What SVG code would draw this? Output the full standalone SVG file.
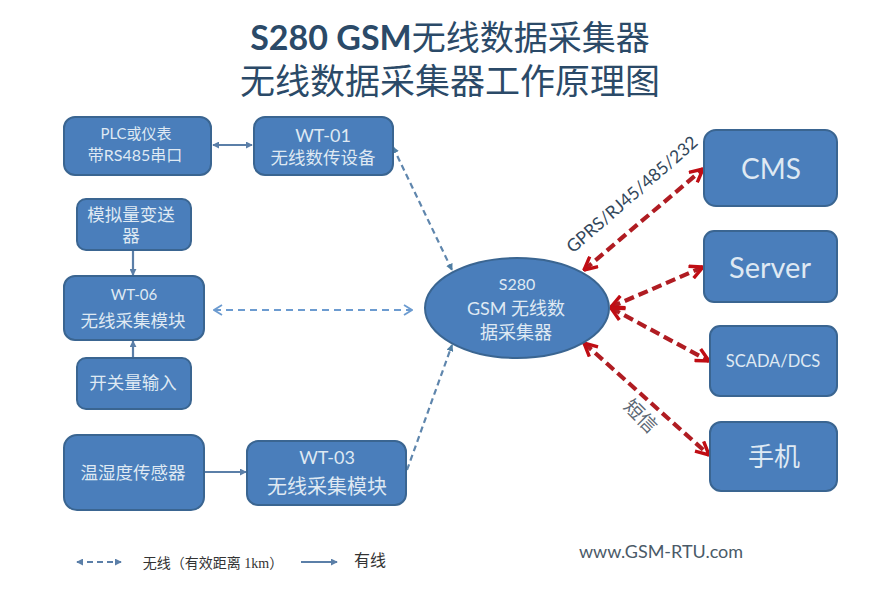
<svg xmlns="http://www.w3.org/2000/svg" width="869" height="606" viewBox="0 0 869 606">
<style>
text{font-family:Lato,"Noto Sans CJK SC",sans-serif;text-anchor:middle}
.n rect,.n ellipse{fill:#4a7ebb;stroke:#3a6591;stroke-width:2}
.n text{fill:#dfe9f3}
.w{stroke:#5b7fa8;stroke-width:2.2;fill:none}
.d{stroke:#5f86ad;stroke-width:2.2;fill:none;stroke-dasharray:6 4}
.l{stroke:#6c9bd0;stroke-width:2;fill:none;stroke-dasharray:7 5}
.r{stroke:#b01c22;stroke-width:4.2;fill:none;stroke-dasharray:10 5}
.t{fill:#33475b}
</style>
<defs>
<marker id="ws" viewBox="0 0 8 8" refX="7" refY="4" markerWidth="7" markerHeight="7" markerUnits="userSpaceOnUse" orient="auto-start-reverse"><path d="M0 0L8 4L0 8Z" fill="#5b7fa8"/></marker>
<marker id="ds" viewBox="0 0 8 8" refX="7" refY="4" markerWidth="7" markerHeight="7" markerUnits="userSpaceOnUse" orient="auto-start-reverse"><path d="M0 0L8 4L0 8Z" fill="#4f7ea3"/></marker>
<marker id="ls" viewBox="0 0 10 12" refX="9" refY="6" markerWidth="10" markerHeight="12" markerUnits="userSpaceOnUse" orient="auto-start-reverse"><path d="M1 1L9 6L1 11" fill="none" stroke="#6c9bd0" stroke-width="1.8"/></marker>
<marker id="rs" viewBox="0 0 16 16" refX="15" refY="8" markerWidth="16" markerHeight="16" markerUnits="userSpaceOnUse" orient="auto-start-reverse"><path d="M2 1.5L15 8L2 14.5" fill="none" stroke="#c00d14" stroke-width="3.4"/></marker>
</defs>

<text x="450" y="50" font-size="34" fill="#2b4a68"><tspan font-weight="700">S280 GSM</tspan>无线数据采集器</text>
<text x="450" y="94" font-size="35" fill="#2b4a68">无线数据采集器工作原理图</text>

<g id="connectors">
<line class="w" x1="213" y1="145" x2="252" y2="145" marker-start="url(#ws)" marker-end="url(#ws)"/>
<line class="w" x1="133" y1="251" x2="133" y2="275" marker-end="url(#ws)"/>
<line class="w" x1="133" y1="357" x2="133" y2="341" marker-end="url(#ws)"/>
<line class="w" x1="205" y1="472" x2="246" y2="472" marker-end="url(#ws)"/>
<line class="d" x1="393" y1="147" x2="452" y2="270" marker-start="url(#ds)" marker-end="url(#ds)"/>
<line class="d" x1="407" y1="470" x2="452" y2="345" marker-end="url(#ds)"/>
<line class="l" x1="214" y1="310" x2="412" y2="310" marker-start="url(#ls)" marker-end="url(#ls)"/>
<line class="r" x1="584" y1="270" x2="703" y2="169" marker-start="url(#rs)" marker-end="url(#rs)"/>
<line class="r" x1="611" y1="307" x2="703" y2="267" marker-start="url(#rs)" marker-end="url(#rs)"/>
<line class="r" x1="611" y1="308" x2="709" y2="361" marker-start="url(#rs)" marker-end="url(#rs)"/>
<line class="r" x1="584" y1="343" x2="709" y2="455" marker-start="url(#rs)" marker-end="url(#rs)"/>
<line class="w" x1="77" y1="562" x2="121" y2="562" stroke-dasharray="6 4" marker-start="url(#ws)" marker-end="url(#ws)"/>
<line class="w" x1="301" y1="562" x2="337" y2="562" marker-end="url(#ws)"/>
</g>

<g id="plc" class="n"><rect x="64" y="117" width="147" height="58" rx="11"/><text x="136" y="139" font-size="15">PLC或仪表</text><text x="135" y="161" font-size="16">带RS485串口</text></g>
<g id="wt01" class="n"><rect x="254" y="117" width="139" height="58" rx="11"/><text x="323" y="142" font-size="18">WT-01</text><text x="323" y="164" font-size="17.5">无线数传设备</text></g>
<g id="analog" class="n"><rect x="77" y="199" width="114" height="51" rx="9"/><text x="131" y="221" font-size="17.5">模拟量变送</text><text x="131" y="242" font-size="17.5">器</text></g>
<g id="wt06" class="n"><rect x="64" y="276" width="140" height="64" rx="11"/><text x="134" y="300" font-size="15">WT-06</text><text x="133" y="327" font-size="17.5">无线采集模块</text></g>
<g id="switch" class="n"><rect x="77" y="358" width="114" height="51" rx="9"/><text x="133" y="389" font-size="17.5">开关量输入</text></g>
<g id="temp" class="n"><rect x="64" y="435" width="140" height="75" rx="13"/><text x="133" y="479" font-size="17.5">温湿度传感器</text></g>
<g id="wt03" class="n"><rect x="247" y="441" width="159" height="64" rx="11"/><text x="327" y="464" font-size="18">WT-03</text><text x="327" y="494" font-size="20">无线采集模块</text></g>
<g id="s280" class="n"><ellipse cx="517" cy="308" rx="92" ry="50"/><text x="517" y="290" font-size="16">S280</text><text x="516" y="315" font-size="18">GSM 无线数</text><text x="516" y="339" font-size="18">据采集器</text></g>
<g id="cms" class="n"><rect x="704" y="130" width="133" height="76" rx="12"/><text x="771" y="179" font-size="28">CMS</text></g>
<g id="server" class="n"><rect x="704" y="231" width="133" height="71" rx="10"/><text x="770" y="278" font-size="29">Server</text></g>
<g id="scada" class="n"><rect x="710" y="326" width="127" height="70" rx="10"/><text x="773" y="367" font-size="16.5">SCADA/DCS</text></g>
<g id="phone" class="n"><rect x="710" y="422" width="127" height="69" rx="11"/><text x="774" y="466" font-size="26">手机</text></g>

<text class="t" transform="translate(636 199) rotate(-41)" font-size="17.5">GPRS/RJ45/485/232</text>
<text transform="translate(636 421) rotate(45)" font-size="19" fill="#5b6773">短信</text>
<text x="213" y="568" font-size="14" fill="#333" style='font-family:"Liberation Serif","Noto Sans CJK SC",serif'>无线（有效距离 1km）</text>
<text x="370" y="566" font-size="16" fill="#333" style='font-family:"Liberation Serif","Noto Sans CJK SC",serif'>有线</text>
<text x="661" y="558" font-size="18" fill="#4a5a68">www.GSM-RTU.com</text>
</svg>
